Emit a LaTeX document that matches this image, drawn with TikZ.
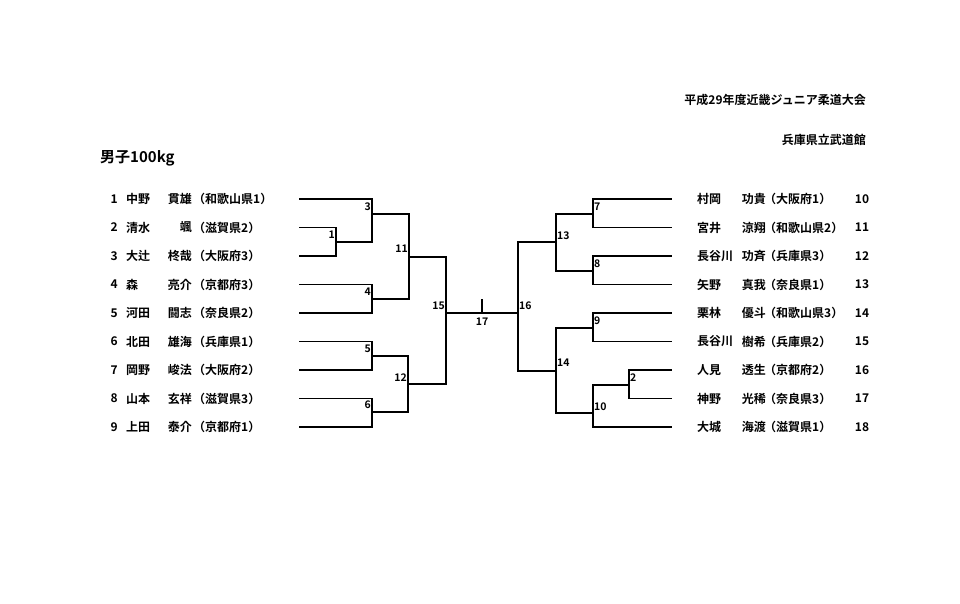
\documentclass[tikz,border=0pt]{standalone}
\usepackage{fontspec}
\newfontfamily\jp{Noto Sans CJK JP Bold}
\begin{document}
\begin{tikzpicture}[x=1pt,y=-1pt,
  t/.style={font=\jp\fontsize{12}{14}\selectfont,inner sep=0pt},
  n/.style={font=\jp\fontsize{10.5}{12}\selectfont,inner sep=1pt},
  br/.style={line width=1.3pt,line cap=rect}]
\useasboundingbox[fill=white] (0,0) rectangle (960,604);
\node[t,anchor=east] (title) at (866,100) {平成29年度近畿ジュニア柔道大会};
\node[t,anchor=east] (venue) at (866,140) {兵庫県立武道館};
\node[t,anchor=west,font=\jp\fontsize{15}{17}\selectfont] (cls) at (100,158) {男子100kg};
% left players
\foreach \i/\s/\g/\p [count=\k from 0] in {1/中野/貫雄/和歌山県1,2/清水/颯/滋賀県2,3/大辻/柊哉/大阪府3,4/森/亮介/京都府3,5/河田/闘志/奈良県2,6/北田/雄海/兵庫県1,7/岡野/峻法/大阪府2,8/山本/玄祥/滋賀県3,9/上田/泰介/京都府1}{
  \pgfmathsetmacro\yy{199+28.5*\k}
  \node[t,anchor=east] (ln\i) at (118,\yy) {\i};
  \node[t,anchor=west] (ls\i) at (126,\yy) {\s};
  \node[t,anchor=east] (lg\i) at (192,\yy) {\g};
  \node[t,anchor=west] (lp\i) at (193,\yy) {（\p）};
  \coordinate (L\i) at (300,\yy);
}
% right players
\foreach \i/\s/\g/\p [count=\k from 0] in {10/村岡/功貴/大阪府1,11/宮井/涼翔/和歌山県2,12/長谷川/功斉/兵庫県3,13/矢野/真我/奈良県1,14/栗林/優斗/和歌山県3,15/長谷川/樹希/兵庫県2,16/人見/透生/京都府2,17/神野/光稀/奈良県3,18/大城/海渡/滋賀県1}{
  \pgfmathsetmacro\yy{199+28.5*\k}
  \node[t,anchor=west] (rs\i) at (697,\yy) {\s};
  \node[t,anchor=east] (rg\i) at (766,\yy) {\g};
  \node[t,anchor=west] (rp\i) at (764,\yy) {（\p）};
  \node[t] (rn\i) at (862,\yy) {\i};
  \coordinate (R\i) at (671,\yy);
}
% left bracket
\draw[br] (L2) -- (336,227.5) -- (336,256) -- (L3);
\draw[br] (336,242) -- (372,242);
\draw[br] (L1) -- (372,199) -- (372,242);
\draw[br] (372,214) -- (409,214);
\draw[br] (L4) -- (372,284.5) -- (372,313) -- (L5);
\draw[br] (372,299) -- (409,299) -- (409,214);
\draw[br] (409,257) -- (446,257);
\draw[br] (L6) -- (372,341.5) -- (372,370) -- (L7);
\draw[br] (372,356) -- (408,356);
\draw[br] (L8) -- (372,398.5) -- (372,427) -- (L9);
\draw[br] (372,412) -- (408,412) -- (408,356);
\draw[br] (408,384) -- (446,384) -- (446,257);
\draw[br] (446,313) -- (518,313);
\draw[br] (482,300) -- (482,313);
% right bracket
\draw[br] (518,242) -- (518,371);
\draw[br] (518,242) -- (556,242); \draw[br] (518,371) -- (556,371);
\draw[br] (556,214) -- (556,271);
\draw[br] (556,214) -- (593,214); \draw[br] (556,271) -- (593,271);
\draw[br] (R10) -- (593,199) -- (593,227.5) -- (R11);
\draw[br] (R12) -- (593,256) -- (593,284.5) -- (R13);
\draw[br] (556,328) -- (556,413);
\draw[br] (556,328) -- (593,328); \draw[br] (556,413) -- (593,413);
\draw[br] (R14) -- (593,313) -- (593,341.5) -- (R15);
\draw[br] (R18) -- (593,427) -- (593,385) -- (629,385);
\draw[br] (R16) -- (629,370) -- (629,398.5) -- (R17);
% match numbers
\node[n,anchor=east] (m3) at (372,207) {3};
\node[n,anchor=east] (m1) at (336,235) {1};
\node[n,anchor=east] (m11) at (409,249) {11};
\node[n,anchor=east] (m4) at (372,292) {4};
\node[n,anchor=east] (m15) at (446,306) {15};
\node[n] (m17) at (482,322) {17};
\node[n,anchor=east] (m5) at (372,349) {5};
\node[n,anchor=east] (m12) at (408,378) {12};
\node[n,anchor=east] (m6) at (372,405) {6};
\node[n,anchor=west] (m16) at (518,306) {16};
\node[n,anchor=west] (m13) at (556,236) {13};
\node[n,anchor=west] (m7) at (593,207) {7};
\node[n,anchor=west] (m8) at (593,264) {8};
\node[n,anchor=west] (m9) at (593,321) {9};
\node[n,anchor=west] (m14) at (556,363) {14};
\node[n,anchor=west] (m2) at (629,378) {2};
\node[n,anchor=west] (m10) at (593,407) {10};
\end{tikzpicture}
\end{document}
